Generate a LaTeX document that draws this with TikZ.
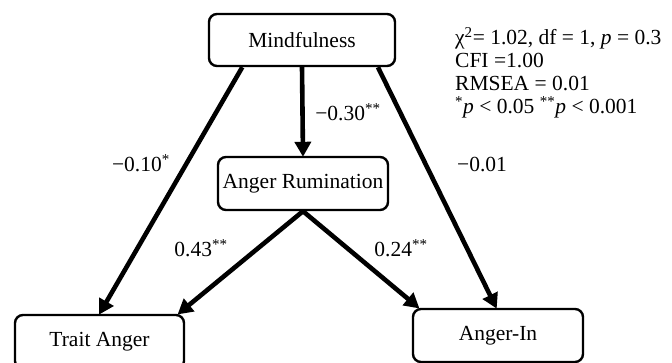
\documentclass[tikz,border=0pt]{standalone}
\usepackage{fontspec}
\setmainfont{Liberation Serif}
\usetikzlibrary{arrows.meta,calc}
\begin{document}
\begin{tikzpicture}[x=1pt,y=-1pt,
  box/.style={draw,line width=2.4pt,rounded corners=8pt,font=\fontsize{21.5}{24}\selectfont,inner sep=0pt},
  path/.style={line width=4.6pt,-{Triangle[length=15pt,width=16pt]},shorten >=-1pt},
  lbl/.style={font=\fontsize{21.5}{24}\selectfont,inner sep=0pt},
  stat/.style={font=\fontsize{21.5}{23}\selectfont,inner sep=0pt,anchor=north west,align=left}]
\useasboundingbox (0,0) rectangle (672,363);
\node[box,minimum width=186pt,minimum height=52pt] (m) at (302,40) {Mindfulness};
\node[box,minimum width=170pt,minimum height=53pt] (ar) at (303,183.5) {Anger Rumination};
\node[box,minimum width=169pt,minimum height=54pt] (ta) at (99.5,342) {Trait Anger};
\node[box,minimum width=170pt,minimum height=53pt] (ai) at (498,335.5) {Anger-In};

\draw[path] (m.south) -- (ar.north);
\draw[path] ($(m.south west)!0.183!(m.south east)$) -- (ta.north);
\draw[path] ($(m.south west)!0.903!(m.south east)$) -- ($(ai.north west)!0.49!(ai.north east)$);
\draw[path] (ar.south) -- ($(ta.north west)!0.96!(ta.north east)$);
\draw[path] (ar.south) -- ($(ai.north west)!0.04!(ai.north east)$);

\node[lbl] (l1) at (348,112) {−0.30\textsuperscript{**}};
\node[lbl] (l2) at (141,163) {−0.10\textsuperscript{*}};
\node[lbl] (l3) at (201,248) {0.43\textsuperscript{**}};
\node[lbl] (l4) at (401,248) {0.24\textsuperscript{**}};
\node[lbl] (l5) at (482,165) {−0.01};

\node[stat] (s) at (455,27) {χ\textsuperscript{2}= 1.02, df = 1, \textit{p} = 0.3\\
CFI =1.00\\
RMSEA = 0.01\\
\textsuperscript{*}\textit{p} < 0.05 \textsuperscript{**}\textit{p} < 0.001};
\end{tikzpicture}
\end{document}
